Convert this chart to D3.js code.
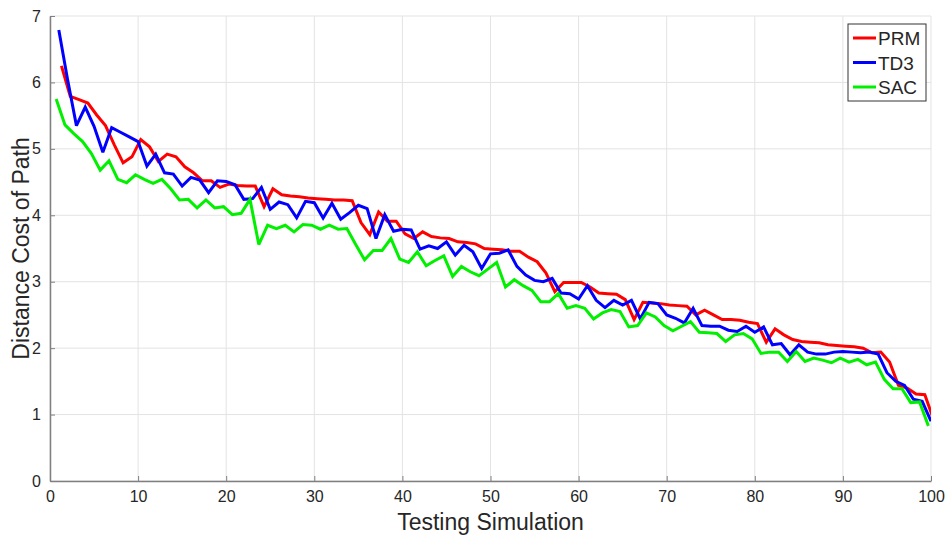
<!DOCTYPE html>
<html>
<head>
<meta charset="utf-8">
<script src="https://cdn.jsdelivr.net/npm/d3@7"></script>
<style>
  html, body { margin: 0; padding: 0; background: #fff; }
  svg text { font-family: "Liberation Sans", Arial, sans-serif; fill: #262626; }
</style>
</head>
<body>
<svg id="chart" width="946" height="535"></svg>
<script>
const seriesNames = ["PRM", "TD3", "SAC"];
const seriesColors = ["#ff0000", "#0000ff", "#00f000"];
const seriesXShift = [0.3, 0, -0.3];
const xTicks = [0, 10, 20, 30, 40, 50, 60, 70, 80, 90, 100];
const yTicks = [0, 1, 2, 3, 4, 5, 6, 7];
const xLabel = "Testing Simulation";
const yLabel = "Distance Cost of Path";

const prm = [6.25,5.79,5.74,5.69,5.51,5.35,5.06,4.79,4.88,5.14,
  5.03,4.81,4.92,4.88,4.73,4.64,4.52,4.52,4.42,4.47,
  4.45,4.44,4.44,4.13,4.40,4.31,4.29,4.28,4.26,4.25,
  4.24,4.23,4.23,4.22,3.89,3.71,4.05,3.91,3.91,3.72,
  3.65,3.75,3.68,3.66,3.65,3.60,3.59,3.57,3.50,3.49,
  3.48,3.46,3.46,3.37,3.30,3.13,2.85,2.99,2.99,2.99,
  2.92,2.83,2.82,2.81,2.73,2.43,2.69,2.68,2.67,2.65,
  2.64,2.63,2.50,2.57,2.50,2.43,2.43,2.42,2.39,2.37,
  2.09,2.29,2.20,2.13,2.10,2.09,2.08,2.05,2.04,2.03,
  2.02,2.00,1.93,1.94,1.79,1.44,1.40,1.31,1.30,0.92];
const td3 = [6.79,6.04,5.35,5.63,5.34,4.95,5.32,5.25,5.18,5.11,
  4.74,4.92,4.64,4.62,4.44,4.57,4.53,4.34,4.52,4.51,
  4.46,4.24,4.25,4.42,4.09,4.20,4.16,3.96,4.21,4.19,
  3.96,4.18,3.94,4.04,4.15,4.10,3.65,4.01,3.76,3.79,
  3.78,3.49,3.54,3.50,3.60,3.40,3.55,3.45,3.20,3.42,
  3.43,3.48,3.23,3.10,3.02,3.00,3.05,2.83,2.82,2.74,
  2.94,2.72,2.61,2.72,2.65,2.72,2.44,2.69,2.67,2.50,
  2.45,2.38,2.60,2.34,2.33,2.33,2.27,2.25,2.33,2.24,
  2.32,2.05,2.07,1.90,2.05,1.94,1.91,1.91,1.94,1.95,
  1.94,1.93,1.94,1.91,1.63,1.50,1.44,1.23,1.20,0.90];
const sac = [5.75,5.36,5.23,5.11,4.93,4.68,4.82,4.54,4.49,4.61,
  4.54,4.48,4.54,4.40,4.23,4.24,4.11,4.23,4.11,4.13,
  4.01,4.03,4.24,3.56,3.85,3.80,3.85,3.75,3.86,3.85,
  3.79,3.85,3.79,3.80,3.56,3.33,3.47,3.47,3.65,3.34,
  3.29,3.45,3.24,3.32,3.39,3.08,3.23,3.15,3.09,3.19,
  3.29,2.92,3.03,2.94,2.87,2.70,2.70,2.82,2.60,2.64,
  2.60,2.44,2.53,2.58,2.55,2.32,2.34,2.53,2.47,2.34,
  2.26,2.33,2.40,2.24,2.23,2.22,2.10,2.20,2.22,2.14,
  1.92,1.94,1.94,1.80,1.95,1.80,1.85,1.82,1.78,1.85,
  1.79,1.83,1.75,1.79,1.53,1.39,1.39,1.18,1.19,0.83];
const seriesValues = [prm, td3, sac];

const margin = {left: 50, top: 16, right: 946 - 931, bottom: 535 - 481};
const W = 946, H = 535;
const svg = d3.select("#chart");
const x = d3.scaleLinear().domain([0, 100]).range([margin.left, W - margin.right]);
const y = d3.scaleLinear().domain([0, 7]).range([H - margin.bottom, margin.top]);

svg.append("defs").append("clipPath").attr("id", "clip")
  .append("rect").attr("x", x(0)).attr("y", y(7)).attr("width", x(100) - x(0)).attr("height", y(0) - y(7));

// grid
const grid = svg.append("g");
grid.selectAll(".gx").data(xTicks).join("line")
  .attr("x1", d => x(d)).attr("x2", d => x(d)).attr("y1", y(0)).attr("y2", y(7))
  .attr("stroke", "#e3e3e3").attr("stroke-width", 1);
grid.selectAll(".gy").data(yTicks).join("line")
  .attr("y1", d => y(d)).attr("y2", d => y(d)).attr("x1", x(0)).attr("x2", x(100))
  .attr("stroke", "#e3e3e3").attr("stroke-width", 1);

// lines
const plot = svg.append("g").attr("clip-path", "url(#clip)");
seriesValues.forEach((vals, s) => {
  const line = d3.line().x((d, i) => x(i + 1 + seriesXShift[s])).y(d => y(d));
  plot.append("path").datum(vals).attr("d", line)
    .attr("fill", "none").attr("stroke", seriesColors[s]).attr("stroke-width", 3)
    .attr("stroke-linejoin", "miter").attr("stroke-miterlimit", 3);
});

// axes
const xAxis = d3.axisBottom(x).tickValues(xTicks).tickFormat(d3.format("d"))
  .tickSizeInner(-5).tickSizeOuter(0).tickPadding(10);
const gx = svg.append("g").attr("transform", `translate(0,${y(0)})`).call(xAxis);
gx.select(".domain").attr("stroke", "#808080").attr("stroke-width", 1.5);
gx.selectAll(".tick line").attr("stroke", "#808080");
gx.selectAll("text").attr("font-size", 16).attr("fill", "#262626");

const yAxis = d3.axisLeft(y).tickValues(yTicks).tickFormat(d3.format("d"))
  .tickSizeInner(-5).tickSizeOuter(0).tickPadding(9);
const gy = svg.append("g").attr("transform", `translate(${x(0)},0)`).call(yAxis);
gy.select(".domain").attr("stroke", "#808080").attr("stroke-width", 1.5);
gy.selectAll(".tick line").attr("stroke", "#808080");
gy.selectAll("text").attr("font-size", 16).attr("fill", "#262626");

// axis labels
svg.append("text").attr("x", (x(0) + x(100)) / 2).attr("y", 530)
  .attr("text-anchor", "middle").attr("font-size", 23).text(xLabel);
svg.append("text").attr("transform", `translate(29,${(y(0) + y(7)) / 2}) rotate(-90)`)
  .attr("text-anchor", "middle").attr("font-size", 23).text(yLabel);

// legend
const lg = svg.append("g");
lg.append("rect").attr("x", 848).attr("y", 24).attr("width", 78).attr("height", 77)
  .attr("fill", "#fff").attr("stroke", "#333").attr("stroke-width", 1);
seriesNames.forEach((n, i) => {
  const yy = 38 + i * 24.5;
  lg.append("line").attr("x1", 853).attr("x2", 876).attr("y1", yy).attr("y2", yy)
    .attr("stroke", seriesColors[i]).attr("stroke-width", 3);
  lg.append("text").attr("x", 878).attr("y", yy + 7).attr("font-size", 19).text(n);
});
</script>
</body>
</html>
